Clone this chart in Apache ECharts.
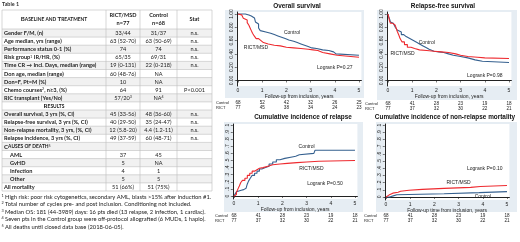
<!DOCTYPE html>
<html><head><meta charset="utf-8">
<script src="https://cdn.jsdelivr.net/npm/echarts@6/dist/echarts.min.js"></script>
<style>html,body{margin:0;padding:0;background:#fff}#c{width:520px;height:242px}</style>
</head><body><div id="c"></div>
<script>
// ---------------- DATA ----------------
const tableTitle = 'Table 1';
const headerLabel = 'Baseline and Treatment';
const headerRict = ['RICT/MSD', 'n=77'];
const headerControl = ['Control', 'n=68'];
const headerStat = 'Stat';
const rowLabels = ['Gender F/M, (n)', 'Age median, yrs (range)', 'Performance status 0-1 (%)',
  'Risk group{sup|1} IR/HR, (%)', 'Time CR \u2192 Incl. Days, median (range)', 'Don age, median (range)',
  'Don=F, Pt=M (%)', 'Chemo courses{sup|2}, n\u22653, (%)', 'RIC transplant (Yes/No)', 'Results',
  'Overall survival, 3 yrs (%, CI)', 'Relapse-free survival, 3 yrs (%, CI)', 'Non-relapse mortality, 3 yrs, (%, CI)',
  'Relapse incidence, 3 yrs (%, CI)', 'Causes of death', 'AML', 'GvHD', 'Infection', 'Other', 'All mortality'];
const rowKinds = ['', '', '', '', '', '', '', '', '', 'head', '', '', '', '', 'sec', 'ind', 'ind', 'ind', 'ind', ''];
const rictValues = ['33/44', '63 (52-70)', '74', '65/35', '19 (0-131)', '60 (48-76)', '10', '64', '57/20{sup|3}', '',
  '45 (33-56)', '40 (29-50)', '12 (5.8-20)', '49 (37-59)', '', '37', '5', '4', '5', '51 (66%)'];
const controlValues = ['31/37', '63 (50-69)', '74', '69/31', '22 (0-218)', 'NA', 'NA', '91', 'NA{sup|4}', '',
  '48 (36-60)', '35 (24-47)', '4.4 (1.2-11)', '60 (48-71)', '', '45', 'NA', '1', '5', '51 (75%)'];
const statValues = ['n.s.', 'n.s.', 'n.s.', 'n.s.', 'n.s.', '', '', 'P<0.001', '', '', 'n.s.', 'n.s.', 'n.s.', 'n.s.',
  '', '', '', '', '', ''];
const footnotes = ['High risk: poor risk cytogenetics, secondary AML, blasts >15% after induction #1.',
  'Total number of cycles pre- and post inclusion. Conditioning not included.',
  'Median OS: 181 (44-3989) days: 16 pts died (13 relapse, 2 infection, 1 cardiac).',
  'Seven pts in the Control group were off-protocol allografted (6 MUDs, 1 haplo).',
  'All deaths until closed data base (2018-06-05).'];

const panelTitles = ['Overall survival', 'Relapse-free survival', 'Cumulative incidence of relapse',
  'Cumulative incidence of non-relapse mortality'];
const xAxisNames = ['Follow-up from inclusion, years', 'Follow-up from inclusion, years',
  'Follow-up from inclusion, years', 'Follow-up time from inclusion, years'];
const yearTicks = [0, 1, 2, 3, 4, 5];
const survTicks = [0, 0.2, 0.4, 0.6, 0.8, 1];
const cumTicks = [0, 0.1, 0.2, 0.3, 0.4, 0.5, 0.6, 0.7, 0.8, 0.9, 1];
const logrankTexts = ['Logrank P=0.27', 'Logrank P=0.98', 'Logrank P=0.50', 'Logrank P=0.10'];
const groupNames = ['Control', 'RICT/MSD'];
const riskRowNames = ['Control', 'RICT'];

const osControl = [[0,1],[0.3,0.985],[0.45,0.97],[0.55,0.955],[0.62,0.94],[0.68,0.91],[0.72,0.88],[0.78,0.85],
  [0.85,0.79],[0.92,0.75],[1.0,0.73],[1.15,0.71],[1.35,0.69],[1.5,0.67],[1.65,0.65],[1.8,0.63],[1.95,0.61],
  [2.1,0.59],[2.3,0.57],[2.45,0.55],[2.6,0.53],[2.75,0.51],[2.9,0.49],[3.05,0.48],[3.25,0.46],[3.5,0.45],
  [3.75,0.43],[3.95,0.40],[4.05,0.38],[5.0,0.38]];
const osRict = [[0,1],[0.08,0.987],[0.15,0.96],[0.22,0.935],[0.3,0.91],[0.38,0.87],[0.45,0.83],[0.5,0.79],
  [0.55,0.75],[0.6,0.71],[0.67,0.67],[0.75,0.63],[0.85,0.6],[0.95,0.57],[1.05,0.55],[1.25,0.53],[1.5,0.52],
  [1.75,0.5],[2.0,0.49],[2.3,0.48],[2.6,0.47],[2.9,0.46],[3.1,0.45],[3.3,0.42],[3.5,0.40],[3.8,0.38],
  [4.1,0.35],[5.0,0.35]];
const rfsControl = [[0,1],[0.03,0.96],[0.07,0.92],[0.1,0.88],[0.15,0.86],[0.22,0.83],[0.3,0.8],[0.38,0.76],
  [0.45,0.73],[0.55,0.69],[0.65,0.66],[0.75,0.63],[0.9,0.6],[1.05,0.57],[1.2,0.55],[1.3,0.52],[1.45,0.5],
  [1.55,0.47],[1.7,0.44],[1.9,0.43],[2.1,0.42],[2.3,0.4],[2.5,0.38],[2.7,0.36],[3.0,0.34],[3.3,0.31],
  [3.6,0.29],[3.9,0.27],[5,0.27]];
const rfsRict = [[0,1],[0.03,0.95],[0.06,0.9],[0.1,0.86],[0.2,0.83],[0.3,0.8],[0.38,0.74],[0.45,0.68],
  [0.5,0.63],[0.58,0.58],[0.68,0.54],[0.8,0.5],[0.95,0.48],[1.1,0.46],[1.3,0.45],[1.6,0.44],[1.9,0.43],
  [2.2,0.42],[2.5,0.4],[2.8,0.38],[3.0,0.36],[3.3,0.35],[3.7,0.34],[4.0,0.33],[5,0.33]];
const cirControl = [[0,0],[0.05,0.03],[0.1,0.06],[0.15,0.08],[0.3,0.09],[0.4,0.11],[0.5,0.13],[0.55,0.17],
  [0.6,0.21],[0.67,0.25],[0.75,0.29],[0.85,0.32],[0.95,0.35],[1.05,0.38],[1.15,0.40],[1.3,0.42],[1.45,0.45],
  [1.6,0.48],[1.75,0.51],[1.9,0.53],[2.1,0.55],[2.4,0.56],[2.55,0.58],[2.7,0.6],[3.3,0.61],[3.35,0.645],[5,0.645]];
const cirRict = [[0,0],[0.05,0.02],[0.1,0.05],[0.15,0.09],[0.22,0.14],[0.28,0.19],[0.35,0.22],[0.45,0.25],
  [0.55,0.29],[0.65,0.32],[0.75,0.35],[0.85,0.37],[0.95,0.39],[1.05,0.4],[1.2,0.42],[1.4,0.44],[1.6,0.45],
  [1.9,0.46],[2.2,0.47],[2.6,0.48],[3.0,0.49],[3.5,0.5],[5,0.5]];
const nrmControl = [[0,0],[0.15,0.015],[0.3,0.03],[0.45,0.045],[2.4,0.06],[3.85,0.075],[5,0.075]];
const nrmRict = [[0,0],[0.04,0.013],[0.08,0.026],[0.12,0.04],[0.2,0.053],[0.28,0.066],[0.5,0.08],[0.6,0.093],
  [0.95,0.106],[1.5,0.12],[2.4,0.133],[3.5,0.146],[3.9,0.16],[5,0.16]];

const riskOsControl = [68, 52, 42, 32, 26, 25];
const riskOsRict = [77, 45, 38, 34, 24, 23];
const riskControl = [68, 41, 28, 23, 19, 18];
const riskRict = [77, 37, 32, 30, 22, 21];

// ---------------- LAYOUT / STYLE ----------------
const BLUE = '#35608f', RED = '#ee2a2f';
const TF = 'Lato', CF = 'Liberation Sans';
const panels = [
  {grid: {left: 236.8, top: 12, width: 124.6, height: 74}, ymin: -0.083, ymax: 1.03, ticks: survTicks,
   fmt: v => v.toFixed(2), bg: [225, 10, 139, 88], title: [297, 6], risk: [103, 108], riskLab: 216,
   curves: [osControl, osRict], risks: [riskOsControl, riskOsRict],
   lab: {control: [2.23, 0.725], rict: [0.74, 0.49], lr: [4.0, 0.2]}},
  {grid: {left: 386.8, top: 12, width: 124.6, height: 74}, ymin: -0.083, ymax: 1.03, ticks: survTicks,
   fmt: v => v.toFixed(2), bg: [377, 10, 140, 90], title: [443, 6], risk: [104, 108.5], riskLab: 365,
   curves: [rfsControl, rfsRict], risks: [riskControl, riskRict],
   lab: {control: [1.6, 0.57], rict: [0.6, 0.41], lr: [4.0, 0.08]}},
  {grid: {left: 232.8, top: 124, width: 124.6, height: 75}, ymin: -0.042, ymax: 1.014, ticks: cumTicks,
   fmt: v => v === 0 ? '0' : (v === 1 ? '1' : '.' + Math.round(v * 10)), bg: [224, 122, 139, 90],
   title: [303, 117], risk: [216, 221], riskLab: 215,
   curves: [cirControl, cirRict], risks: [riskControl, riskRict],
   lab: {control: [3.0, 0.70], rict: [3.2, 0.39], lr: [3.76, 0.17]}},
  {grid: {left: 384.8, top: 124, width: 124.6, height: 76}, ymin: -0.042, ymax: 1.014, ticks: cumTicks,
   fmt: v => v === 0 ? '0' : (v === 1 ? '1' : '.' + Math.round(v * 10)), bg: [376, 122, 141, 90],
   title: [445, 117], risk: [216, 221], riskLab: 364,
   curves: [nrmControl, nrmRict], risks: [riskControl, riskRict],
   lab: {control: [4.0, 0.01], rict: [3.0, 0.2], lr: [4.08, 0.39]}}
];

const chart = echarts.init(document.getElementById('c'));
const grids = [], xAxes = [], yAxes = [], series = [];
panels.forEach((p, k) => {
  grids.push(Object.assign({show: true, backgroundColor: '#fff', borderWidth: 0}, p.grid));
  xAxes.push({type: 'value', gridIndex: k, min: -0.05, max: 5.1,
    name: xAxisNames[k], nameLocation: 'middle', nameGap: 8,
    nameTextStyle: {fontFamily: CF, fontSize: 5, color: '#222'},
    axisLine: {show: true, lineStyle: {color: '#222', width: 1}},
    axisTick: {show: true, length: 2, customValues: yearTicks, lineStyle: {color: '#222', width: 0.6}},
    axisLabel: {customValues: yearTicks, fontFamily: CF, fontSize: 5, color: '#222', margin: 2},
    splitLine: {show: false}});
  yAxes.push({type: 'value', gridIndex: k, min: p.ymin, max: p.ymax,
    axisLine: {show: true, onZero: false, lineStyle: {color: '#222', width: 1}},
    axisTick: {show: true, length: 2, customValues: p.ticks, lineStyle: {color: '#222', width: 0.6}},
    axisLabel: {customValues: p.ticks, formatter: p.fmt, rotate: 90, fontFamily: CF, fontSize: 5, color: '#222', margin: 3},
    splitLine: {show: false}});
  [BLUE, RED].forEach((col, j) => {
    series.push({type: 'line', xAxisIndex: k, yAxisIndex: k, step: 'end', symbol: 'none',
      data: p.curves[j], lineStyle: {color: col, width: 1.1}, itemStyle: {color: col},
      silent: true, animation: false, z: j === 1 ? 3 : 2});
  });
});

chart.setOption({animation: false, grid: grids, xAxis: xAxes, yAxis: yAxes, series: series});

// ---------------- GRAPHIC (table, panels, annotations) ----------------
const g = [];
const RICH = {sup: {fontSize: 3.6, verticalAlign: 'top', lineHeight: 6, fontFamily: TF},
  B: {fontSize: 6.2, fontWeight: 'bold', fontFamily: TF}, S: {fontSize: 4.9, fontWeight: 'bold', fontFamily: TF}};
const txt = (x, y, text, o) => {
  const el = {type: 'text', x: x, y: y, z: 10, silent: true,
    style: Object.assign({text: text, fontFamily: TF, fontSize: 5.6, fill: '#222', align: 'left', verticalAlign: 'middle', rich: RICH}, o || {})};
  g.push(el); return el;
};
const line = (x1, y1, x2, y2, col) => g.push({type: 'line', z: 9, silent: true,
  shape: {x1: x1, y1: y1, x2: x2, y2: y2}, style: {stroke: col || '#bdbdbd', lineWidth: 0.6}});
const rect = (x, y, w, h, fill, z) => g.push({type: 'rect', z: z == null ? 1 : z, silent: true,
  shape: {x: x, y: y, width: w, height: h}, style: {fill: fill}});
function smallCaps(s) {
  let out = '', cur = null, buf = '';
  for (const c of s) {
    const up = c !== c.toLowerCase();
    const st = up ? 'B' : 'S';
    if (st !== cur && buf) { out += '{' + cur + '|' + buf + '}'; buf = ''; }
    cur = st; buf += up ? c : c.toUpperCase();
  }
  if (buf) out += '{' + cur + '|' + buf + '}';
  return out;
}

// table
const cols = [2, 106, 140, 177, 212];
const tTop = 10, hBot = 29, pitch = 8.1;
txt(2, 4.5, tableTitle, {fontSize: 5.4, fontWeight: 'bold', fill: '#333'});
rect(cols[0], tTop, cols[4] - cols[0], hBot - tTop, '#fff');
rowLabels.forEach((lab, i) => {
  const y0 = hBot + i * pitch, cy = y0 + pitch / 2 + 0.2;
  rect(cols[0], y0, cols[4] - cols[0], pitch, i % 2 === 0 ? '#f1f1f1' : '#fff');
  const kind = rowKinds[i];
  if (kind === 'head') txt((cols[0] + cols[1]) / 2, cy, smallCaps(lab), {align: 'center', fontWeight: 'bold'});
  else if (kind === 'sec') txt(4, cy, smallCaps(lab) + '{sup|5}', {fontWeight: 'bold'});
  else txt(kind === 'ind' ? 10 : 4, cy, lab, {fontWeight: 'bold'});
  txt((cols[1] + cols[2]) / 2, cy, rictValues[i], {align: 'center'});
  txt((cols[2] + cols[3]) / 2, cy, controlValues[i], {align: 'center'});
  txt((cols[3] + cols[4]) / 2, cy, statValues[i], {align: 'center'});
});
const tBot = hBot + rowLabels.length * pitch;
line(cols[0], tTop, cols[4], tTop);
for (let i = 0; i <= rowLabels.length; i++) line(cols[0], hBot + i * pitch, cols[4], hBot + i * pitch);
cols.forEach(x => line(x, tTop, x, tBot));
txt((cols[0] + cols[1]) / 2, 19.5, smallCaps(headerLabel), {align: 'center'});
[[headerRict, 1], [headerControl, 2]].forEach(([h, c]) => {
  txt((cols[c] + cols[c + 1]) / 2, 15, h[0], {align: 'center', fontWeight: 'bold'});
  txt((cols[c] + cols[c + 1]) / 2, 23.5, h[1], {align: 'center', fontWeight: 'bold'});
});
txt((cols[3] + cols[4]) / 2, 19.5, headerStat, {align: 'center', fontWeight: 'bold'});
footnotes.forEach((f, i) => {
  const y = tBot + 6 + i * 7.5;
  txt(1.5, y - 1.6, String(i + 1), {fontSize: 3.8});
  txt(5, y, f, {fontSize: 5.8});
});

// panels
panels.forEach((p, k) => {
  rect(p.bg[0], p.bg[1], p.bg[2], p.bg[3], '#e6edf3', -1);
  const ct = (x, y, t, o) => g.push({type: 'text', x: x, y: y, z: 10, silent: true,
    style: Object.assign({text: t, fontFamily: CF, fontSize: 5, fill: '#222', align: 'center', verticalAlign: 'middle'}, o || {})});
  ct(p.title[0], p.title[1], panelTitles[k], {fontWeight: 'bold', fontSize: 6.4, fill: '#111'});
  const pc = v => chart.convertToPixel({gridIndex: k}, v);
  let q = pc(p.lab.control); ct(q[0], q[1], groupNames[0]);
  q = pc(p.lab.rict); ct(q[0], q[1], groupNames[1]);
  q = pc(p.lab.lr); ct(q[0], q[1], logrankTexts[k]);
  p.risks.forEach((arr, j) => {
    ct(p.riskLab, p.risk[j], riskRowNames[j], {align: 'left', fontSize: 4});
    arr.forEach((n, i) => {
      const px = chart.convertToPixel({xAxisIndex: k}, yearTicks[i]);
      ct(px, p.risk[j], String(n), {fontSize: 4.6});
    });
  });
});

chart.setOption({graphic: {elements: g}});
</script></body></html>
